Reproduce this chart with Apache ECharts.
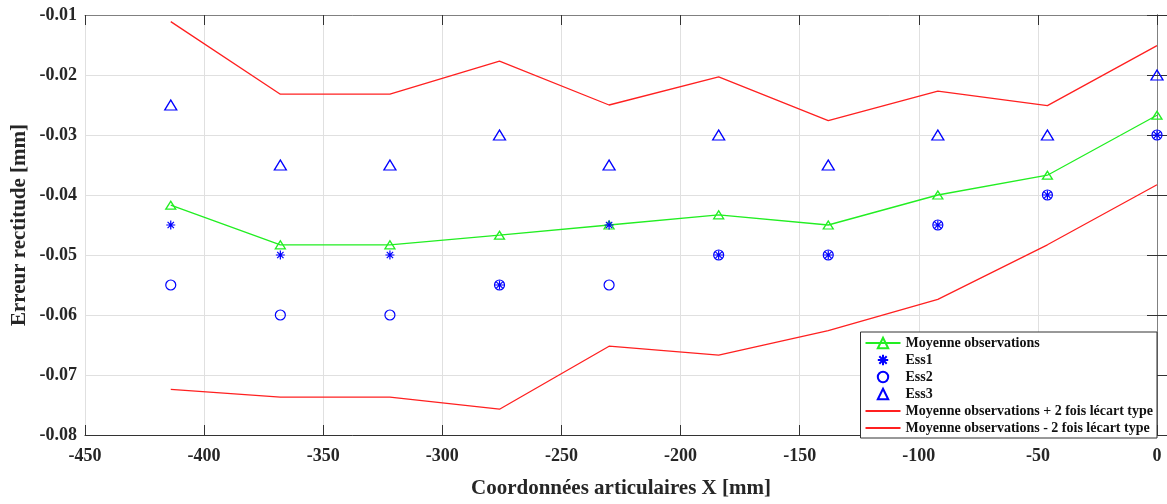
<!DOCTYPE html>
<html>
<head>
<meta charset="utf-8">
<script src="https://cdn.jsdelivr.net/npm/echarts@6/dist/echarts.min.js"></script>
<style>
  html, body { margin: 0; padding: 0; background: #fff; }
  #chart { width: 1167px; height: 504px; }
</style>
</head>
<body>
<div id="chart"></div>
<script>
// Positions le long de l'axe X [mm]
const positionsX = [-414, -368, -322, -276, -230, -184, -138, -92, -46, 0];

// Erreur de rectitude mesurée pour chaque essai [mm]
const ess1 = [-0.045, -0.05, -0.05, -0.055, -0.045, -0.05, -0.05, -0.045, -0.04, -0.03];
const ess2 = [-0.055, -0.06, -0.06, -0.055, -0.055, -0.05, -0.05, -0.045, -0.04, -0.03];
const ess3 = [-0.025, -0.035, -0.035, -0.03, -0.035, -0.03, -0.035, -0.03, -0.03, -0.02];

// Moyenne des observations et bornes à ±2 écarts types [mm]
const moyenne = [-0.0417, -0.0483, -0.0483, -0.0467, -0.045, -0.0433, -0.045, -0.04, -0.0367, -0.0267];
const bornePlus = [-0.0111, -0.0232, -0.0232, -0.0177, -0.025, -0.0203, -0.0276, -0.0227, -0.0251, -0.0151];
const borneMoins = [-0.0724, -0.0737, -0.0737, -0.0757, -0.0652, -0.0667, -0.0626, -0.0574, -0.0483, -0.0383];

const pairs = ys => positionsX.map((x, i) => [x, ys[i]]);

const FONT = '"Liberation Serif", "Times New Roman", serif';
const TXT = '#262626';
const BLUE = '#0000ff';
const GREEN = '#22ee22';
const RED = '#ff2020';

// Astérisque à 8 branches (tracé seulement)
const ASTERISK = 'path://M10,0L10,20M0,10L20,10M2.93,2.93L17.07,17.07M2.93,17.07L17.07,2.93';

const chart = echarts.init(document.getElementById('chart'), null, { renderer: 'canvas' });

const baseX = { type: 'value', min: -450, max: 0, interval: 50 };
const baseY = { type: 'value', min: -0.08, max: -0.01, interval: 0.01 };

// Série de marqueurs seuls (ligne invisible) : même icône de légende que les marqueurs
function marqueurs(name, ys, symbol, size, width) {
  return {
    name: name,
    type: 'line',
    data: pairs(ys),
    symbol: symbol,
    symbolSize: size,
    showSymbol: true,
    lineStyle: { opacity: 0 },
    itemStyle: { color: 'rgba(0,0,0,0)', borderColor: BLUE, borderWidth: width, opacity: 1 },
    z: 4
  };
}

chart.setOption({
  animation: false,
  backgroundColor: '#ffffff',
  grid: { left: 85, right: 10, top: 15, bottom: 67, containLabel: false },
  xAxis: [
    Object.assign({}, baseX, {
      position: 'bottom',
      name: 'Coordonnées articulaires X [mm]',
      nameLocation: 'middle',
      nameGap: 43,
      nameTextStyle: { fontFamily: FONT, fontWeight: 'bold', fontSize: 21, color: TXT },
      axisLine: { show: true, lineStyle: { color: '#333', width: 1 } },
      axisTick: { show: true, inside: true, length: 10, lineStyle: { color: '#333' } },
      axisLabel: { fontFamily: FONT, fontWeight: 'bold', fontSize: 18, color: TXT, margin: 12 },
      splitLine: { show: true, lineStyle: { color: '#e0e0e0', width: 1 } }
    }),
    Object.assign({}, baseX, {
      position: 'top',
      axisLine: { show: true, lineStyle: { color: '#808080', width: 1 } },
      axisTick: { show: true, inside: true, length: 10, lineStyle: { color: '#333' } },
      axisLabel: { show: false },
      splitLine: { show: false }
    })
  ],
  yAxis: [
    Object.assign({}, baseY, {
      position: 'left',
      name: 'Erreur rectitude [mm]',
      nameLocation: 'middle',
      nameGap: 55,
      nameMoveOverlap: false,
      nameTextStyle: { fontFamily: FONT, fontWeight: 'bold', fontSize: 21, color: TXT },
      axisLine: { show: true, lineStyle: { color: '#333', width: 1 } },
      axisTick: { show: true, inside: true, length: 10, lineStyle: { color: '#333' } },
      axisLabel: {
        fontFamily: FONT, fontWeight: 'bold', fontSize: 18, color: TXT, margin: 8,
        formatter: v => v.toFixed(2)
      },
      splitLine: { show: true, lineStyle: { color: '#e0e0e0', width: 1 } }
    }),
    Object.assign({}, baseY, {
      position: 'right',
      axisLine: { show: true, lineStyle: { color: '#808080', width: 1 } },
      axisTick: { show: true, inside: true, length: 10, lineStyle: { color: '#333' } },
      axisLabel: { show: false },
      splitLine: { show: false }
    })
  ],
  legend: {
    orient: 'vertical',
    right: 10,
    bottom: 66,
    padding: [4, 4, 3, 4],
    itemGap: 3,
    itemWidth: 35,
    itemHeight: 13,
    backgroundColor: '#ffffff',
    borderColor: '#333',
    borderWidth: 1,
    borderRadius: 0,
    textStyle: { fontFamily: FONT, fontWeight: 'bold', fontSize: 14, color: '#111' },
    data: [
      'Moyenne observations', 'Ess1', 'Ess2', 'Ess3',
      'Moyenne observations + 2 fois lécart type',
      'Moyenne observations - 2 fois lécart type'
    ]
  },
  series: [
    {
      name: 'Moyenne observations',
      type: 'line',
      data: pairs(moyenne),
      symbol: 'triangle',
      symbolSize: [10, 8],
      showSymbol: true,
      lineStyle: { color: GREEN, width: 1.3 },
      itemStyle: { color: 'rgba(0,0,0,0)', borderColor: GREEN, borderWidth: 1.3 },
      z: 3
    },
    marqueurs('Ess1', ess1, ASTERISK, 9, 1.2),
    marqueurs('Ess2', ess2, 'circle', 10, 1.2),
    marqueurs('Ess3', ess3, 'triangle', [12, 10], 1.3),
    {
      name: 'Moyenne observations + 2 fois lécart type',
      type: 'line',
      data: pairs(bornePlus),
      symbol: 'none',
      lineStyle: { color: RED, width: 1.3 },
      itemStyle: { color: 'rgba(0,0,0,0)', borderWidth: 0 },
      z: 2
    },
    {
      name: 'Moyenne observations - 2 fois lécart type',
      type: 'line',
      data: pairs(borneMoins),
      symbol: 'none',
      lineStyle: { color: RED, width: 1.3 },
      itemStyle: { color: 'rgba(0,0,0,0)', borderWidth: 0 },
      z: 2
    }
  ]
});
</script>
</body>
</html>
